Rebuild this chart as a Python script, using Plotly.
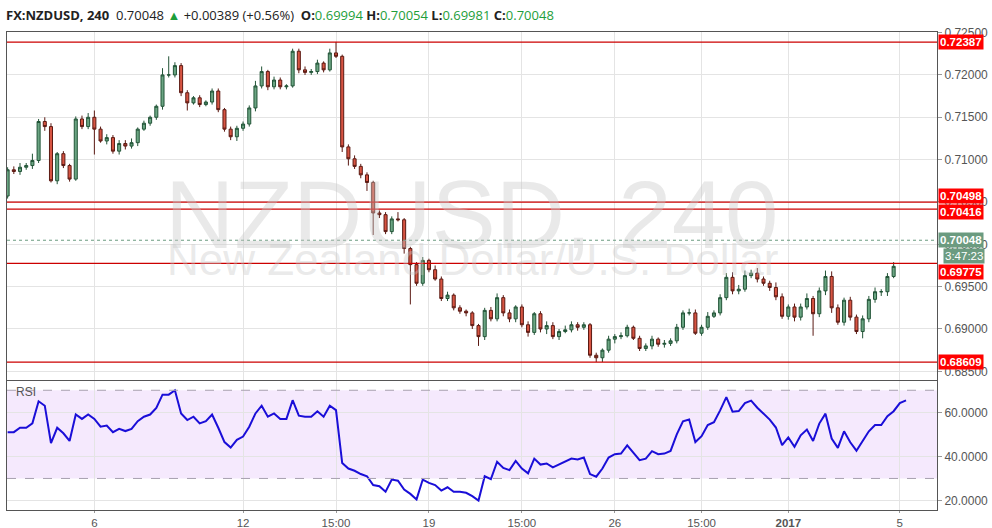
import plotly.graph_objects as go
from plotly.subplots import make_subplots

first_open = 0.7057
closes = [0.7088,0.7086,0.7091,0.7093,0.7099,0.7145,0.7139,0.7075,0.7107,0.7093,
0.7077,0.7148,0.7139,0.7150,0.7136,0.7122,0.7126,0.7110,0.7119,0.7116,
0.7120,0.7136,0.7143,0.7150,0.7163,0.7200,0.7200,0.7211,0.7179,0.7167,
0.7173,0.7165,0.7168,0.7181,0.7159,0.7136,0.7127,0.7137,0.7142,0.7161,
0.7187,0.7204,0.7186,0.7194,0.7186,0.7187,0.7228,0.7206,0.7203,0.7204,
0.7214,0.7206,0.7226,0.7222,0.7115,0.7101,0.7092,0.7082,0.7073,0.7037,
0.7035,0.7015,0.7030,0.7029,0.6995,0.6976,0.6954,0.6981,0.6970,0.6959,
0.6936,0.6940,0.6925,0.6921,0.6919,0.6904,0.6891,0.6922,0.6912,0.6937,
0.6919,0.6912,0.6926,0.6905,0.6896,0.6918,0.6900,0.6904,0.6891,0.6897,
0.6899,0.6905,0.6902,0.6905,0.6869,0.6866,0.6875,0.6888,0.6891,0.6892,
0.6902,0.6889,0.6877,0.6880,0.6888,0.6882,0.6883,0.6886,0.6902,0.6919,
0.6919,0.6895,0.6902,0.6915,0.6919,0.6937,0.6961,0.6945,0.6947,0.6963,
0.6966,0.6959,0.6954,0.6949,0.6938,0.6915,0.6926,0.6914,0.6926,0.6936,
0.6918,0.6945,0.6962,0.6925,0.6908,0.6934,0.6914,0.6897,0.6912,0.6935,
0.6944,0.6944,0.6962,0.6974,0.6997,0.70048]
# wick lengths in pips (0.0001)
wick_up = [3,4,5,3,8,3,5,4,2,3, 2,3,4,5,8,3,4,3,4,4, 5,2,3,2,2,8,22,4,3,3,
2,3,2,3,3,2,3,3,3,3, 6,6,2,4,3,2,3,3,4,3, 4,2,5,13,2,3,4,3,3,2,
3,3,3,8,2,2,3,4,2,5, 3,4,2,3,2,2,2,3,4,5, 3,4,2,3,4,2,3,5,4,3,
5,4,3,3,2,3,2,4,3,4, 3,2,3,3,4,2,4,3,4,3, 5,4,3,5,3,4,5,6,5,6,
4,6,3,3,6,4,3,4,4,6, 3,4,7,6,4,3,4,3,4,4, 5,3,4,5,8,3]
wick_dn = [3,3,4,3,4,3,5,2,4,3, 3,2,3,3,30,2,4,3,4,4, 3,4,2,3,3,4,3,3,4,9,
2,3,2,3,3,3,4,5,3,3, 4,3,4,3,3,3,2,4,3,3, 3,3,2,2,6,8,3,4,10,26,
4,3,3,2,6,47,3,3,3,2,3,3,3,3,4,4, 11,4,3,3,4,4,4,3,5,3, 4,6,3,4,2,3,4,3,3,5,
5,3,5,3,2,2,3,3,4,3, 4,3,3,3,3,2,3,3,2,3, 3,4,4,3,3,4,3,4,4,3,
4,5,4,3,26,4,5,6,3,4, 4,3,8,4,4,5,5,2]
rsi = [51,51,53,53,55,65,63,46,53,50.5, 47,59,57,59,57,53.5,54,51,52.5,51.5,
52.5,56,58,59,62,68,68,70,59.5,56.5, 58,55,56,59,53,46.5,44,47.5,49,53.5,
59.5,63,58,59.5,57,57,65.5,58.5,58,58, 60.5,58,63,61,37,34.5,33.5,32,31,27,
26.5,24,29.5,29,25,23,20.5,29.5,28,27, 24.5,26,24,24,23.5,22,20,31,29.7,37.6,
34.8,33.8,38,34.5,32.3,39,36.3,36.8,35,36.3, 37.4,39,38.6,39.5,32,30.8,34.5,39.5,41,41.3,
45,41.8,38.3,39,42.4,41,41.3,42.5,50,55.9, 56.7,46.5,49.2,54.2,55.5,60.9,66.9,60.3,60.6,64.2,
65.3,62.1,59.4,56.7,53.1,45.1,48.6,44.4,49.6,52.2, 47,54.9,59.4,48.1,43.9,51.4,46.4,42.6,47,51.4,
54.2,54.2,58.2,60.5,64.2,65.4]
tick_idx = [14, 38, 53, 68, 83, 98, 112, 126, 144]
tick_txt = ["6", "12", "15:00", "19", "15:00", "26", "15:00", "<b>2017</b>", "5"]
levels = [0.72387, 0.70498, 0.70416, 0.69775, 0.68609]
level_label_shift = [0, 6, -3, -9, 0]
last_price = 0.70048

opens = [first_open] + closes[:-1]
x = list(range(len(closes)))
highs = [max(o, c) + u * 0.0001 for o, c, u in zip(opens, closes, wick_up)]
lows = [min(o, c) - d * 0.0001 for o, c, d in zip(opens, closes, wick_dn)]

fig = make_subplots(rows=2, cols=1, shared_xaxes=True, row_heights=[0.73, 0.27],
                    vertical_spacing=0.004)

shapes = []
shapes.append(dict(type="rect", xref="x2 domain", yref="y2", x0=0, x1=1, y0=30, y1=70,
                   fillcolor="rgba(230,200,250,0.4)", line_width=0, layer="below"))
for lv in (70, 30):
    shapes.append(dict(type="line", xref="x2 domain", yref="y2", x0=0, x1=1, y0=lv, y1=lv,
                       line=dict(color="#a8a0b0", width=1, dash="dash")))
for lv in levels:
    shapes.append(dict(type="line", xref="x domain", yref="y", x0=0, x1=1, y0=lv, y1=lv,
                       line=dict(color="#cc0000", width=1.2)))
shapes.append(dict(type="line", xref="x domain", yref="y", x0=0, x1=1, y0=last_price, y1=last_price,
                   line=dict(color="#6b9b80", width=1, dash="dot")))

fig.add_trace(go.Candlestick(
    x=x, open=opens, high=highs, low=lows, close=closes,
    increasing=dict(fillcolor="#6ba583", line=dict(color="#225437", width=1)),
    decreasing=dict(fillcolor="#d75442", line=dict(color="#5b1a13", width=1)),
    whiskerwidth=0, showlegend=False), row=1, col=1)
fig.add_trace(go.Scatter(x=x, y=rsi, mode="lines", line=dict(color="#1a0ed8", width=2),
                         showlegend=False), row=2, col=1)

grid = "#e4e4e4"
fig.update_xaxes(range=[-0.1, 150], tickvals=tick_idx, ticktext=tick_txt, showgrid=True,
                 gridcolor=grid, zeroline=False, showline=True, linecolor="#555",
                 mirror=True, rangeslider_visible=False, tickfont=dict(size=11.5, color="#555"),
                 ticks="outside", ticklen=2, tickcolor="#999")
fig.update_xaxes(showticklabels=False, ticks="", row=1, col=1)
fig.update_yaxes(side="right", range=[0.68403, 0.72507], dtick=0.005, tickformat=".5f",
                 showgrid=True, gridcolor=grid, zeroline=False, showline=True, linecolor="#555",
                 mirror=True, tickfont=dict(size=12, color="#555"), ticks="outside",
                 ticklen=4, tickcolor="#999", row=1, col=1)
fig.update_yaxes(side="right", range=[15.7, 74], tickvals=[20, 40, 60], tickformat=".4f",
                 showgrid=True, gridcolor=grid, zeroline=False, showline=True, linecolor="#555",
                 mirror=True, tickfont=dict(size=12, color="#555"), ticks="outside",
                 ticklen=4, tickcolor="#999", row=2, col=1)

ann = []
ann.append(dict(text="NZDUSD, 240", x=0.5, y=0.735, xref="paper", yref="paper",
                showarrow=False, font=dict(size=96, color="rgba(200,200,200,0.4)", family="Liberation Sans")))
ann.append(dict(text="New Zealand Dollar/U.S. Dollar", x=0.5, y=0.525, xref="paper", yref="paper",
                showarrow=False, font=dict(size=44, color="rgba(200,200,200,0.4)", family="Liberation Sans")))
for lv, sh in zip(levels, level_label_shift):
    ann.append(dict(text="<b>%.5f</b>" % lv, x=1.0, xref="paper", y=lv, yref="y",
                    xanchor="left", xshift=1, yshift=sh, showarrow=False, bgcolor="#ff0000",
                    font=dict(size=11.5, color="white"), borderpad=1))
ann.append(dict(text="<b>%.5f</b>" % last_price, x=1.0, xref="paper", y=last_price, yref="y",
                xanchor="left", xshift=1, showarrow=False, bgcolor="#6b9b80",
                font=dict(size=11.5, color="white"), borderpad=1))
ann.append(dict(text="3:47:23", x=1.0, xref="paper", y=last_price, yref="y",
                xanchor="left", xshift=6, yshift=-16, showarrow=False, bgcolor="#6b9b80",
                font=dict(size=11.5, color="white"), borderpad=1))
ann.append(dict(text="RSI", x=0.008, y=0.265, xref="paper", yref="paper", xanchor="left",
                yanchor="top", showarrow=False, font=dict(size=12, color="#555")))
g = "#1e9e3a"
header = ("<b>FX:NZDUSD, 240</b>  0.70048 <span style='color:%s'>▲</span> +0.00389 (+0.56%%)  "
          "<b>O:</b><span style='color:%s'>0.69994</span> <b>H:</b><span style='color:%s'>0.70054</span> "
          "<b>L:</b><span style='color:%s'>0.69981</span> <b>C:</b><span style='color:%s'>0.70048</span>") % (g, g, g, g, g)
ann.append(dict(text=header, x=0, y=1.0, xref="paper", yref="paper", showarrow=False,
                xanchor="left", yanchor="middle", yshift=17, xshift=-3,
                font=dict(size=13, color="#222", family="Open Sans")))

fig.update_layout(width=992, height=528, margin=dict(l=7, r=55, t=32, b=18, autoexpand=False),
                  paper_bgcolor="white", plot_bgcolor="white", annotations=ann, shapes=shapes,
                  font=dict(family="Liberation Sans"))
fig.write_html("out.html", config={"displayModeBar": False},
               post_script="document.body.style.margin='0';document.body.style.overflow='hidden';")
